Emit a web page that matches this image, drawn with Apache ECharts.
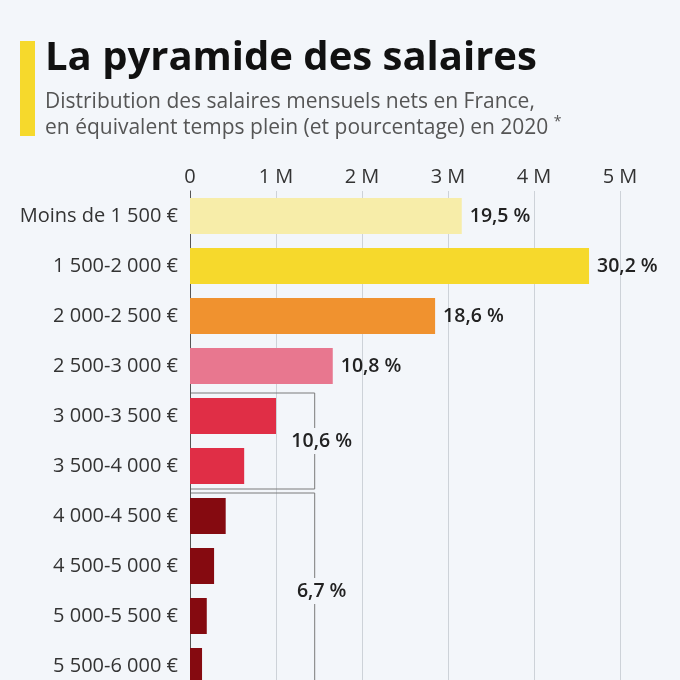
<!DOCTYPE html>
<html>
<head>
<meta charset="utf-8">
<script src="https://cdn.jsdelivr.net/npm/echarts@6/dist/echarts.min.js"></script>
<style>
html,body{margin:0;padding:0;background:#f3f6fa;overflow:hidden;height:680px;}
#chart{width:680px;height:720px;}
</style>
</head>
<body>
<div id="chart"></div>
<script>
// Data
const categories = ['Moins de 1 500 €','1 500-2 000 €','2 000-2 500 €','2 500-3 000 €','3 000-3 500 €','3 500-4 000 €','4 000-4 500 €','4 500-5 000 €','5 000-5 500 €','5 500-6 000 €'];
const employees = [3160000, 4640000, 2850000, 1660000, 1000000, 630000, 415000, 280000, 195000, 140000];
const shareLabels = ['19,5 %','30,2 %','18,6 %','10,8 %','','','','','',''];
const groupStart = [4, 6];
const groupEnd = [5, 9];
const groupLabels = ['10,6 %','6,7 %'];
const groupX = [1450000, 1450000];
const xTicks = ['0','1 M','2 M','3 M','4 M','5 M'];

const barColors = ['#f7eda9','#f6d92c','#f0922f','#e8778f','#e02e46','#e02e46','#850a10','#850a10','#850a10','#850a10'];
const bg = '#f3f6fa';
const font = "'Open Sans', sans-serif";

const chart = echarts.init(document.getElementById('chart'), null, {renderer:'canvas'});

const bracketData = groupStart.map((s, i) => [s, groupEnd[i], groupX[i], i]);

const option = {
  backgroundColor: bg,
  animation: false,
  textStyle: {fontFamily: font},
  title: {
    text: 'La pyramide des salaires',
    subtext: 'Distribution des salaires mensuels nets en France,\nen équivalent temps plein (et pourcentage) en 2020 {sup|*}',
    left: 40, top: 34,
    itemGap: 10,
    textStyle: {fontFamily: font, fontSize: 40, fontWeight: 'bold', color: '#111'},
    subtextStyle: {
      fontFamily: font, fontSize: 21, lineHeight: 26, color: '#555',
      rich: {sup: {fontFamily: font, fontSize: 14, color: '#555', verticalAlign: 'top', lineHeight: 26, padding: [0, 0, 8, 0]}}
    }
  },
  graphic: [{
    type: 'rect', left: 20, top: 41, shape: {width: 15, height: 95},
    style: {fill: '#f6d92c'}
  }],
  grid: {left: 190, top: 191, right: 60, height: 500, containLabel: false},
  xAxis: {
    type: 'value', position: 'top', min: 0, max: 5000000, interval: 1000000,
    axisLine: {show: false}, axisTick: {show: false},
    splitLine: {show: true, lineStyle: {color: '#cdd2d8', width: 1}},
    axisLabel: {
      color: '#333', fontSize: 20, fontFamily: font, margin: 4,
      formatter: (v) => xTicks[Math.round(v / 1000000)]
    }
  },
  yAxis: {
    type: 'category', data: categories, inverse: true,
    axisLine: {show: true, lineStyle: {color: '#555', width: 1}},
    axisTick: {show: false},
    axisLabel: {color: '#333', fontSize: 20, fontFamily: font, margin: 12}
  },
  series: [{
    type: 'bar',
    data: employees.map((v, i) => ({value: v, itemStyle: {color: barColors[i]}})),
    barCategoryGap: '28%',
    label: {
      show: true, position: 'right', distance: 8,
      formatter: (p) => shareLabels[p.dataIndex],
      fontFamily: font, fontSize: 19.5, fontWeight: 600, color: '#222'
    },
    z: 3
  }, {
    type: 'custom',
    data: bracketData,
    encode: {x: 2, y: [0, 1]},
    z: 2,
    renderItem: function (params, api) {
      const s = api.value(0), e = api.value(1), xv = api.value(2), idx = api.value(3);
      const p0 = api.coord([0, s]);
      const pS = api.coord([xv, s]);
      const pE = api.coord([xv, e]);
      const band = api.size([0, 1])[1];
      const top = pS[1] - band / 2 + 2;
      const bottom = pE[1] + band / 2 - 2;
      const x0 = p0[0] + 1;
      const xr = pS[0];
      const mid = (top + bottom) / 2;
      return {
        type: 'group',
        children: [{
          type: 'polyline',
          shape: {points: [[x0, top], [xr, top], [xr, bottom], [x0, bottom]]},
          style: {stroke: '#7a7a7a', lineWidth: 1, fill: null}
        }, {
          type: 'text',
          x: xr + 7, y: mid,
          style: {
            text: groupLabels[idx], fill: '#222', fontFamily: font, fontSize: 19.5, fontWeight: 600,
            align: 'center', verticalAlign: 'middle',
            backgroundColor: bg, padding: [3, 2]
          }
        }]
      };
    }
  }]
};
chart.setOption(option);
</script>
</body>
</html>
